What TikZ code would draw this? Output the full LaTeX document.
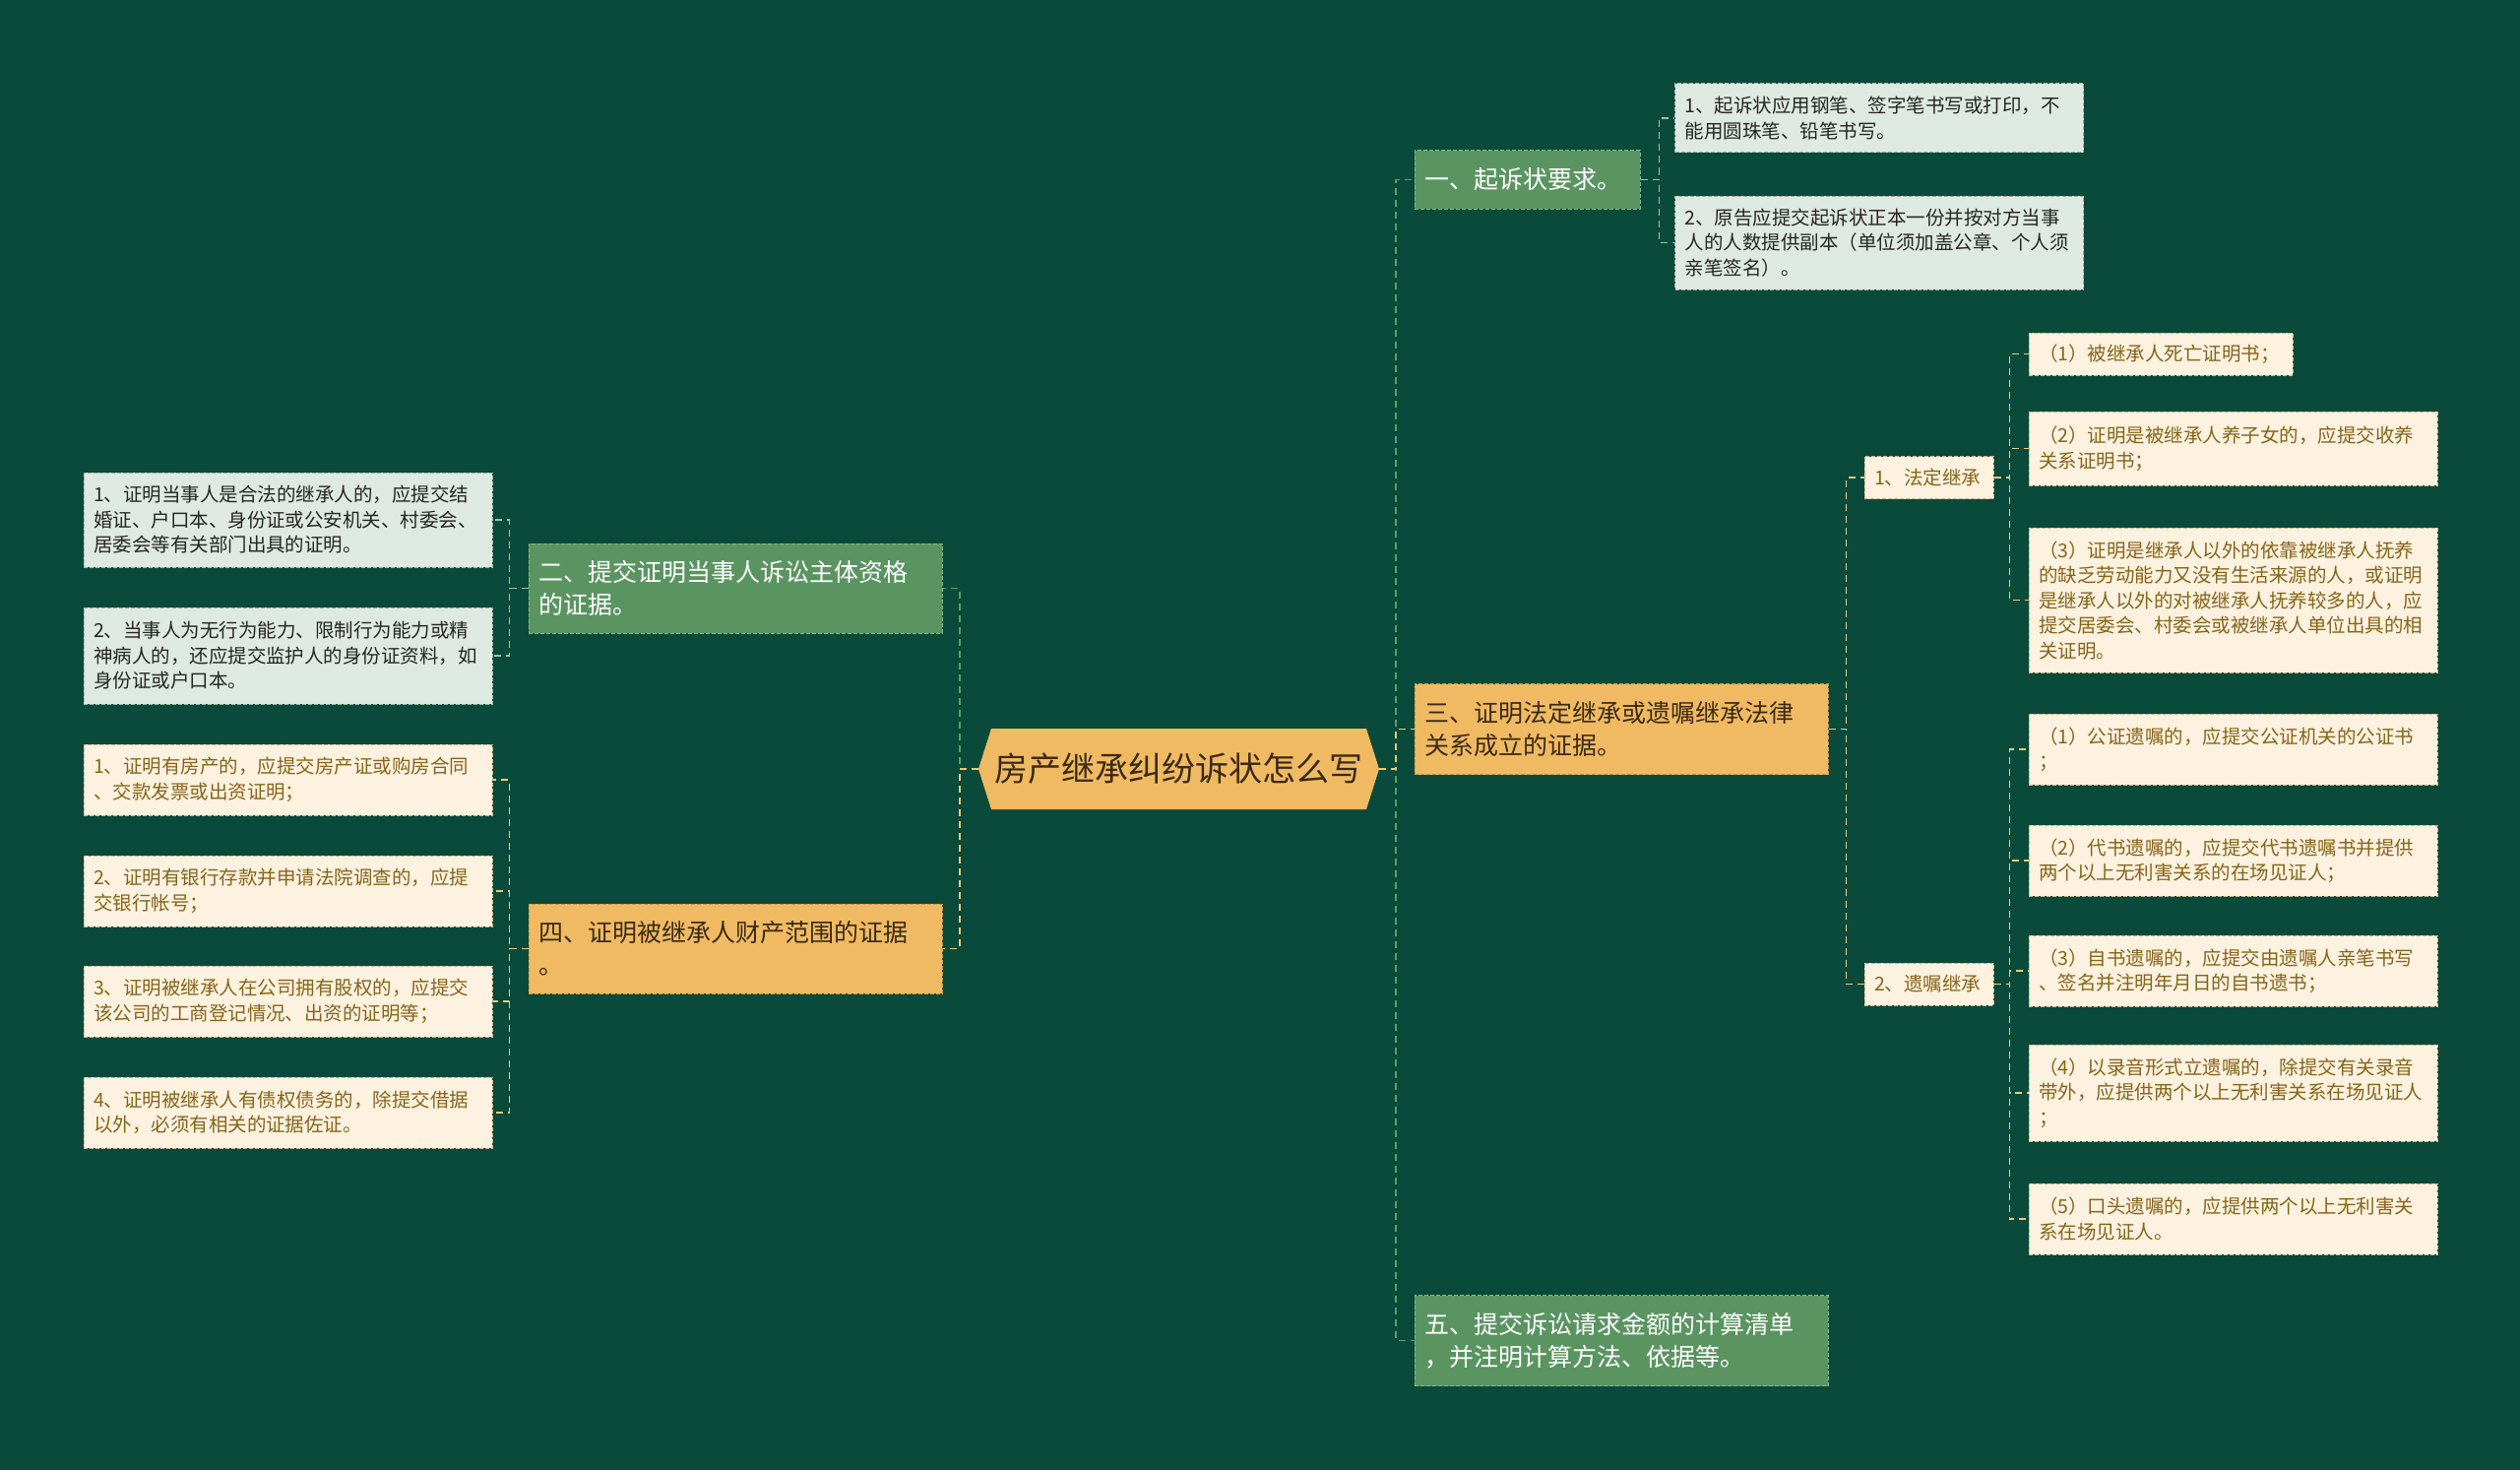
\documentclass[tikz,border=0pt]{standalone}
\usepackage{fontspec}
\setmainfont{Noto Sans CJK SC}
\definecolor{bgc}{HTML}{0A4A3A}
\definecolor{grn}{HTML}{5A9561}
\definecolor{grnB}{HTML}{86B68C}
\definecolor{orng}{HTML}{F0BA62}
\definecolor{orngB}{HTML}{C99A48}
\definecolor{lg}{HTML}{DEE9E1}
\definecolor{lgB}{HTML}{9FB5A5}
\definecolor{cr}{HTML}{FDF1DF}
\definecolor{crB}{HTML}{C8B690}
\definecolor{brn}{HTML}{86651A}
\definecolor{dk}{HTML}{26261F}
\definecolor{dko}{HTML}{3A2A12}
\definecolor{cG}{HTML}{5E9E68}
\definecolor{cO}{HTML}{F0C970}
\definecolor{cLG}{HTML}{9DC3A5}
\definecolor{cY}{HTML}{E4CD82}
\tikzset{
  boxbase/.style={rectangle, inner xsep=10pt, inner ysep=0pt, align=left, anchor=center,
    line width=1pt, dash pattern=on 4pt off 2pt},
  lvone/.style={boxbase, font=\fontsize{25}{33}\selectfont, text width=400pt, minimum height=92pt},
  Gone/.style={lvone, fill=grn, draw=grnB, text=white},
  Oone/.style={lvone, fill=orng, draw=orngB, text=dko},
  leaf/.style={boxbase, font=\fontsize{19.5}{25.5}\selectfont, text width=395pt},
  leafG/.style={leaf, fill=lg, draw=lgB, text=dk},
  leafC/.style={leaf, fill=cr, draw=crB, text=brn},
  conn/.style={line width=1.8pt, dash pattern=on 7pt off 5pt},
}
\begin{document}
\begin{tikzpicture}[x=1pt,y=-1pt]
\fill[bgc] (0,0) rectangle (2560,1493);
\useasboundingbox (0,0) rectangle (2560,1493);

% root
\fill[orng] (994,781) -- (1007,740) -- (1388,740) -- (1401,781) -- (1388,822) -- (1007,822) -- cycle;
\node[inner sep=0pt, minimum width=407pt, minimum height=82pt, font=\fontsize{34}{40}\selectfont, text=dko] (root) at (1197.5,781) {房产继承纠纷诉状怎么写};

% level one
\node[Gone, text width=209pt, minimum height=59pt] (n1) at (1551.5,182.5) {一、起诉状要求。};
\node[Oone] (n3) at (1647,740.5) {三、证明法定继承或遗嘱继承法律\\关系成立的证据。};
\node[Gone] (n5) at (1647,1361.5) {五、提交诉讼请求金额的计算清单\\，并注明计算方法、依据等。};
\node[Gone, minimum height=91pt] (n2) at (747,597.5) {二、提交证明当事人诉讼主体资格\\的证据。};
\node[Oone, minimum height=91pt] (n4) at (747,963.5) {四、证明被继承人财产范围的证据\\。};

% children of n1
\node[leafG, minimum height=70pt] (a1) at (1909,120) {1、起诉状应用钢笔、签字笔书写或打印，不\\能用圆珠笔、铅笔书写。};
\node[leafG, minimum height=95pt] (a2) at (1909,246.5) {2、原告应提交起诉状正本一份并按对方当事\\人的人数提供副本（单位须加盖公章、个人须\\亲笔签名）。};

% children of n3
\node[leafC, text width=111pt, minimum height=43pt] (b) at (1959.5,485) {1、法定继承};
\node[leafC, text width=111pt, minimum height=43pt] (c) at (1959.5,999.5) {2、遗嘱继承};

% children of b
\node[leafC, text width=248pt, minimum height=43pt] (d1) at (2195,359.5) {（1）被继承人死亡证明书；};
\node[leafC, minimum height=75pt] (d2) at (2268.5,455.5) {（2）证明是被继承人养子女的，应提交收养\\关系证明书；};
\node[leafC, minimum height=147pt] (d3) at (2268.5,609.5) {（3）证明是继承人以外的依靠被继承人抚养\\的缺乏劳动能力又没有生活来源的人，或证明\\是继承人以外的对被继承人抚养较多的人，应\\提交居委会、村委会或被继承人单位出具的相\\关证明。};

% children of c
\node[leafC, minimum height=72pt] (e1) at (2268.5,761) {（1）公证遗嘱的，应提交公证机关的公证书\\；};
\node[leafC, minimum height=72pt] (e2) at (2268.5,874) {（2）代书遗嘱的，应提交代书遗嘱书并提供\\两个以上无利害关系的在场见证人；};
\node[leafC, minimum height=72pt] (e3) at (2268.5,986) {（3）自书遗嘱的，应提交由遗嘱人亲笔书写\\、签名并注明年月日的自书遗书；};
\node[leafC, minimum height=98pt] (e4) at (2268.5,1110) {（4）以录音形式立遗嘱的，除提交有关录音\\带外，应提供两个以上无利害关系在场见证人\\；};
\node[leafC, minimum height=72pt] (e5) at (2268.5,1238) {（5）口头遗嘱的，应提供两个以上无利害关\\系在场见证人。};

% children of n2
\node[leafG, minimum height=96pt] (f1) at (292.5,528) {1、证明当事人是合法的继承人的，应提交结\\婚证、户口本、身份证或公安机关、村委会、\\居委会等有关部门出具的证明。};
\node[leafG, minimum height=98pt] (f2) at (292.5,666) {2、当事人为无行为能力、限制行为能力或精\\神病人的，还应提交监护人的身份证资料，如\\身份证或户口本。};

% children of n4
\node[leafC, minimum height=72pt] (g1) at (292.5,792) {1、证明有房产的，应提交房产证或购房合同\\、交款发票或出资证明；};
\node[leafC, minimum height=72pt] (g2) at (292.5,905) {2、证明有银行存款并申请法院调查的，应提\\交银行帐号；};
\node[leafC, minimum height=72pt] (g3) at (292.5,1017) {3、证明被继承人在公司拥有股权的，应提交\\该公司的工商登记情况、出资的证明等；};
\node[leafC, minimum height=72pt] (g4) at (292.5,1130) {4、证明被继承人有债权债务的，除提交借据\\以外，必须有相关的证据佐证。};

% connectors from root
\draw[conn, cG] (root.east) -- ++(17,0) |- (n1.west);
\draw[conn, cG] (root.east) -- ++(17,0) |- (n5.west);
\draw[conn, cO] (root.east) -- ++(17,0) |- (n3.west);
\draw[conn, cG] (root.west) -- ++(-19,0) |- (n2.east);
\draw[conn, cO] (root.west) -- ++(-19,0) |- (n4.east);

% level two connectors
\foreach \k in {a1,a2} \draw[conn, cLG] (n1.east) -- ++(19,0) |- (\k.west);
\foreach \k in {b,c} \draw[conn, cY] (n3.east) -- ++(18,0) |- (\k.west);
\foreach \k in {d1,d2,d3} \draw[conn, cY] (b.east) -- ++(16,0) |- (\k.west);
\foreach \k in {e1,e2,e3,e4,e5} \draw[conn, cY] (c.east) -- ++(16,0) |- (\k.west);
\foreach \k in {f1,f2} \draw[conn, cLG] (n2.west) -- ++(-19,0) |- (\k.east);
\foreach \k in {g1,g2,g3,g4} \draw[conn, cY] (n4.west) -- ++(-19,0) |- (\k.east);
\end{tikzpicture}
\end{document}
